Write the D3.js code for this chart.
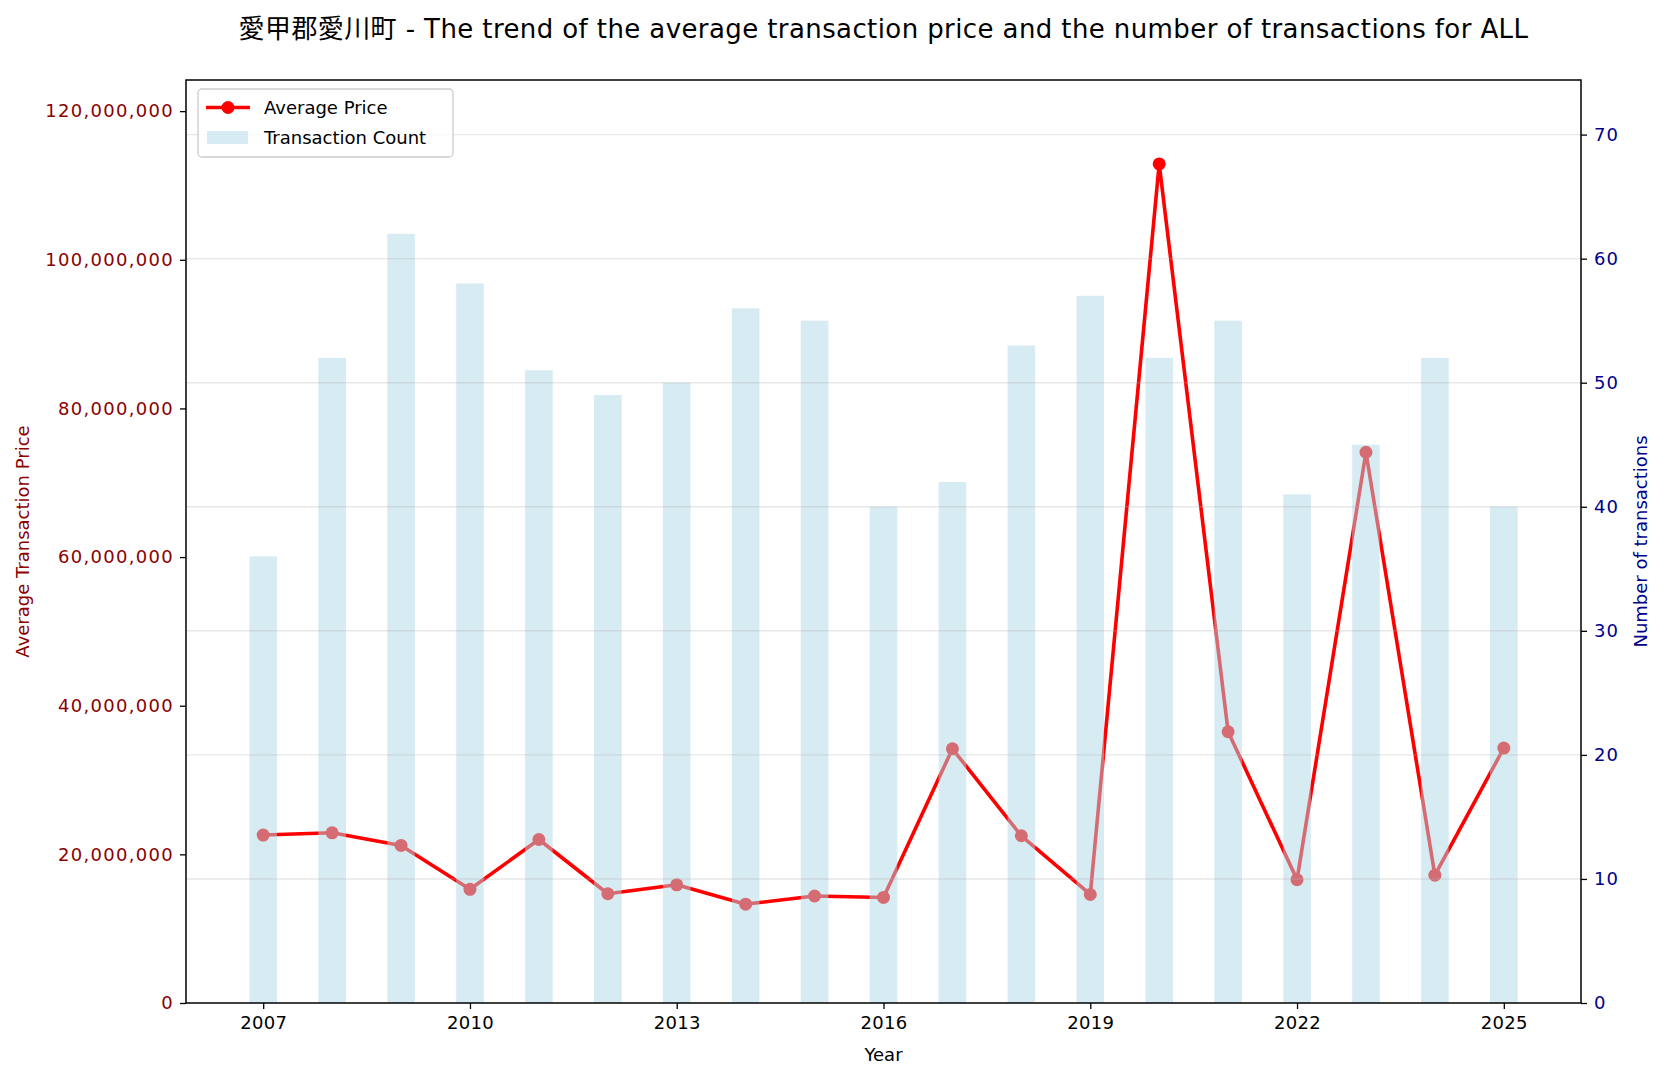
<!DOCTYPE html>
<html>
<head>
<meta charset="utf-8">
<script src="https://cdn.jsdelivr.net/npm/d3@7"></script>
<style>
  body { margin: 0; background: #fff; }
  text { font-family: "DejaVu Sans", "Noto Sans CJK JP", sans-serif; }
</style>
</head>
<body>
<svg id="chart"></svg>
<script>
// data
var years = [2007, 2008, 2009, 2010, 2011, 2012, 2013, 2014, 2015, 2016,
             2017, 2018, 2019, 2020, 2021, 2022, 2023, 2024, 2025]
var avgPrice = [22600000, 22900000, 21200000, 15300000, 22000000, 14700000, 15900000, 13300000, 14400000, 14200000,
                34200000, 22500000, 14600000, 112900000, 36500000, 16600000, 74100000, 17200000, 34300000]
var counts = [36, 52, 62, 58, 51, 49, 50, 56, 55, 40,
              42, 53, 57, 52, 55, 41, 45, 52, 40]
var xTicks = [2007, 2010, 2013, 2016, 2019, 2022, 2025]
var priceTicks = [0, 20000000, 40000000, 60000000, 80000000, 100000000, 120000000]
var countTicks = [0, 10, 20, 30, 40, 50, 60, 70]

var dimensions = {
    width: 1666,
    height: 1082,
    margin: { top: 80, bottom: 79, left: 186, right: 85 }
}
var plotRight = dimensions.width - dimensions.margin.right
var plotBottom = dimensions.height - dimensions.margin.bottom

var svg = d3.select("#chart")
    .attr("width", dimensions.width)
    .attr("height", dimensions.height)

var barW = 0.4
var xScale = d3.scaleLinear()
    .domain([years[0] - barW / 2 - 0.92, years[years.length - 1] + barW / 2 + 0.92])
    .range([dimensions.margin.left, plotRight])

var yPrice = d3.scaleLinear()
    .domain([0, d3.max(avgPrice) * 1.1])
    .range([plotBottom, dimensions.margin.top])

var yCount = d3.scaleLinear()
    .domain([0, d3.max(counts) * 1.2])
    .range([plotBottom, dimensions.margin.top])

// price line (drawn first, the bars sit over it)
var line = d3.line()
    .x((d, i) => xScale(years[i]))
    .y(d => yPrice(d))

svg.append("path")
    .datum(avgPrice)
    .attr("fill", "none")
    .attr("stroke", "red")
    .attr("stroke-width", 3.6)
    .attr("stroke-linejoin", "round")
    .attr("d", line)

svg.selectAll(".dot")
    .data(avgPrice)
    .enter().append("circle")
    .attr("cx", (d, i) => xScale(years[i]))
    .attr("cy", d => yPrice(d))
    .attr("r", 6.5)
    .attr("fill", "red")

// count bars
svg.selectAll(".bar")
    .data(counts)
    .enter().append("rect")
    .attr("x", (d, i) => xScale(years[i] - barW / 2))
    .attr("width", (d, i) => xScale(years[i] + barW / 2) - xScale(years[i] - barW / 2))
    .attr("y", d => yCount(d))
    .attr("height", d => plotBottom - yCount(d))
    .attr("fill", "lightblue")
    .attr("fill-opacity", 0.5)

// grid follows the right axis
svg.selectAll(".grid")
    .data(countTicks.slice(1))
    .enter().append("line")
    .attr("x1", dimensions.margin.left)
    .attr("x2", plotRight)
    .attr("y1", d => yCount(d))
    .attr("y2", d => yCount(d))
    .attr("stroke", "#b0b0b0")
    .attr("stroke-opacity", 0.3)
    .attr("stroke-width", 1.4)

// axes
var xAxisGen = d3.axisBottom(xScale).tickValues(xTicks).tickFormat(d3.format("d")).tickSize(6).tickPadding(7)
var yAxisGen = d3.axisLeft(yPrice).tickValues(priceTicks).tickFormat(d3.format(",")).tickSize(6).tickPadding(6)
var y2AxisGen = d3.axisRight(yCount).tickValues(countTicks).tickSize(6).tickPadding(7)

var xg = svg.append("g")
    .attr("transform", "translate(0," + plotBottom + ")")
    .call(xAxisGen)
var yg = svg.append("g")
    .attr("transform", "translate(" + dimensions.margin.left + ",0)")
    .call(yAxisGen)
var y2g = svg.append("g")
    .attr("transform", "translate(" + plotRight + ",0)")
    .call(y2AxisGen)

;[xg, yg, y2g].forEach(function(g) {
    g.select(".domain").remove()
    g.selectAll(".tick line").attr("stroke", "#000").attr("stroke-width", 1.3)
    g.selectAll(".tick text").style("font-size", "18px").attr("fill", "#000")
})
yg.selectAll(".tick text").attr("fill", "darkred").style("letter-spacing", "1.3px")
y2g.selectAll(".tick text").attr("fill", "darkblue").style("letter-spacing", "1px")
xg.selectAll(".tick text").style("letter-spacing", "0.3px")

// frame
svg.append("rect")
    .attr("x", dimensions.margin.left)
    .attr("y", dimensions.margin.top)
    .attr("width", plotRight - dimensions.margin.left)
    .attr("height", plotBottom - dimensions.margin.top)
    .attr("fill", "none")
    .attr("stroke", "#000")
    .attr("stroke-width", 1.5)

// labels
svg.append("text")
    .attr("x", (dimensions.margin.left + plotRight) / 2)
    .attr("y", 1061)
    .attr("text-anchor", "middle")
    .style("font-size", "18px")
    .text("Year")

svg.append("text")
    .attr("transform", "translate(29," + ((dimensions.margin.top + plotBottom) / 2) + ") rotate(-90)")
    .attr("text-anchor", "middle")
    .attr("fill", "darkred")
    .style("font-size", "18px")
    .text("Average Transaction Price")

svg.append("text")
    .attr("transform", "translate(1647," + ((dimensions.margin.top + plotBottom) / 2) + ") rotate(-90)")
    .attr("text-anchor", "middle")
    .attr("fill", "darkblue")
    .style("font-size", "18px")
    .text("Number of transactions")

svg.append("text")
    .attr("x", (dimensions.margin.left + plotRight) / 2)
    .attr("y", 38)
    .attr("text-anchor", "middle")
    .style("font-size", "26px")
    .style("letter-spacing", "0.4px")
    .text("愛甲郡愛川町 - The trend of the average transaction price and the number of transactions for ALL")

// legend
var legend = svg.append("g").attr("transform", "translate(198,89)")
legend.append("rect")
    .attr("width", 255)
    .attr("height", 68)
    .attr("rx", 4)
    .attr("fill", "#fff")
    .attr("fill-opacity", 0.8)
    .attr("stroke", "#cccccc")
    .attr("stroke-width", 1.3)
legend.append("line")
    .attr("x1", 8).attr("x2", 52).attr("y1", 18.5).attr("y2", 18.5)
    .attr("stroke", "red").attr("stroke-width", 3.6)
legend.append("circle")
    .attr("cx", 30).attr("cy", 18.5).attr("r", 6.5).attr("fill", "red")
legend.append("rect")
    .attr("x", 9).attr("y", 42).attr("width", 41).attr("height", 13)
    .attr("fill", "lightblue").attr("fill-opacity", 0.5)
legend.append("text")
    .attr("x", 66).attr("y", 25)
    .style("font-size", "18px")
    .text("Average Price")
legend.append("text")
    .attr("x", 66).attr("y", 55)
    .style("font-size", "18px")
    .text("Transaction Count")
</script>
</body>
</html>
